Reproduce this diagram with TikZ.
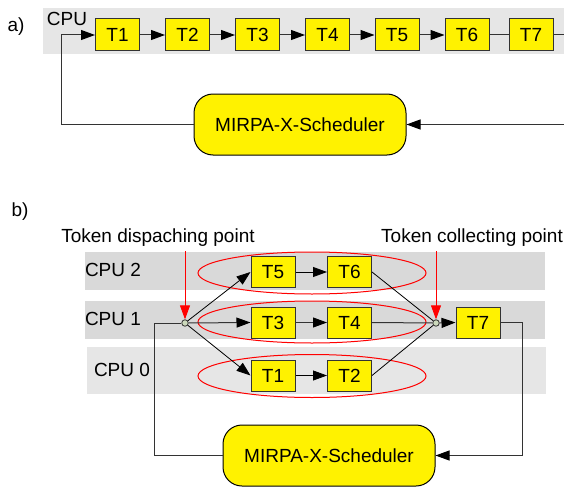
\documentclass[tikz,border=0pt]{standalone}
\usepackage{fontspec}
\setmainfont{Liberation Sans}
\usetikzlibrary{arrows.meta,calc}
\definecolor{bandA}{HTML}{E6E6E6}
\definecolor{bandB}{HTML}{D9D9D9}
\definecolor{boxline}{HTML}{333333}
\definecolor{dotfill}{HTML}{CCD9BC}
\definecolor{linegray}{HTML}{333333}
\begin{document}
\begin{tikzpicture}[x=1pt,y=-1pt,
  every node/.style={font=\fontsize{19}{21}\selectfont, inner sep=0pt},
  tbox/.style={draw=boxline, line width=1pt, fill=yellow, minimum width=44pt, minimum height=32pt},
  tboxb/.style={tbox, minimum height=31pt},
  sched/.style={draw=black, line width=1pt, fill=yellow, rounded corners=19pt, minimum width=212pt, minimum height=61pt},
  conn/.style={draw=linegray, line width=1pt},
  diag/.style={draw=black, line width=0.8pt},
  arr/.style={-{Triangle[length=14pt,width=10pt,color=black,fill=black]}},
  redarr/.style={draw=red, line width=1pt, -{Triangle[length=14pt,width=10pt]}},
  ell/.style={draw=red, line width=1pt},
  dot/.style={circle, draw=linegray, fill=dotfill, line width=0.8pt, minimum size=6.5pt},
  lbl/.style={text=black}
]
\useasboundingbox (0,0) rectangle (564,487);

% ---------- part a ----------
\fill[bandA] (43,8) rectangle (564,54);
\node[lbl] (la) at (16,27) {a)};
\node[lbl] (cpua) at (67,19) {CPU};
\node[tbox] (a1) at (117.5,35) {T1};
\node[tbox] (a2) at (187.5,35) {T2};
\node[tbox] (a3) at (257.5,35) {T3};
\node[tbox] (a4) at (327.5,35) {T4};
\node[tbox] (a5) at (397,35) {T5};
\node[tbox] (a6) at (467,35) {T6};
\node[tbox] (a7) at (531,35) {T7};
\node[sched] (sa) at (300,124.5) {MIRPA-X-Scheduler};
\coordinate (aleft) at (61,124.5);
\coordinate (aright) at (564,35);
\coordinate (arightb) at (564,124.5);
\draw[conn,arr] (a1) -- (a2);
\draw[conn,arr] (a2) -- (a3);
\draw[conn,arr] (a3) -- (a4);
\draw[conn,arr] (a4) -- (a5);
\draw[conn,arr] (a5) -- (a6);
\draw[conn] (a6) -- (a7);
\draw[conn] (a7.east) -- (aright);
\draw[conn,arr] (arightb) -- (sa.east);
\draw[conn,arr] (sa.west) -- (aleft) |- (a1.west);

% ---------- part b ----------
\node[lbl] (lb) at (20,212) {b)};
\fill[bandB] (85,252) rectangle (545,290);
\fill[bandB] (85,301) rectangle (545,339);
\fill[bandA] (87,347) rectangle (546,394);
\node[lbl] (cpu2) at (113,270) {CPU 2};
\node[lbl] (cpu1) at (113,319) {CPU 1};
\node[lbl] (cpu0) at (122,370) {CPU 0};
\node[lbl] (tdp) at (158,238) {Token dispaching point};
\node[lbl] (tcp) at (472,238) {Token collecting point};

\draw[ell] (312,273) ellipse [x radius=114, y radius=21];
\draw[ell] (312,322) ellipse [x radius=114, y radius=21];
\draw[ell] (312,376) ellipse [x radius=114, y radius=21.5];

\node[tboxb] (b5) at (273,272) {T5};
\node[tboxb] (b6) at (349.5,272) {T6};
\node[tboxb] (b3) at (273,322.5) {T3};
\node[tboxb] (b4) at (349.5,322.5) {T4};
\node[tboxb] (b1) at (273,375.5) {T1};
\node[tboxb] (b2) at (349.5,375.5) {T2};
\node[tboxb] (b7) at (478,322.5) {T7};
\node[sched] (sb) at (329,455.5) {MIRPA-X-Scheduler};

\node[dot] (disp) at (185,323) {};
\node[dot] (coll) at (436,323) {};

\coordinate (bL) at (154,455.5);
\coordinate (bR) at (522,455.5);

\draw[conn] (sb.west) -- (bL) |- (disp);
\draw[diag,arr] (disp) -- (b5.west);
\draw[conn,arr] (disp) -- (b3.west);
\draw[diag,arr] (disp) -- (b1.west);
\draw[diag,arr] (b5) -- (b6);
\draw[conn,arr] (b3) -- (b4);
\draw[diag,arr] (b1) -- (b2);
\draw[diag] (b6.east) -- (coll);
\draw[conn] (b4.east) -- (coll);
\draw[diag] (b2.east) -- (coll);
\draw[conn,arr] (coll) -- (b7.west);
\draw[conn,arr] (b7.east) -| (bR) -- (sb.east);

\draw[redarr] (disp |- tdp.south) ++(0,4) -- (disp.north);
\draw[redarr] (coll |- tcp.south) ++(0,4) -- (coll.north);
\end{tikzpicture}
\end{document}
